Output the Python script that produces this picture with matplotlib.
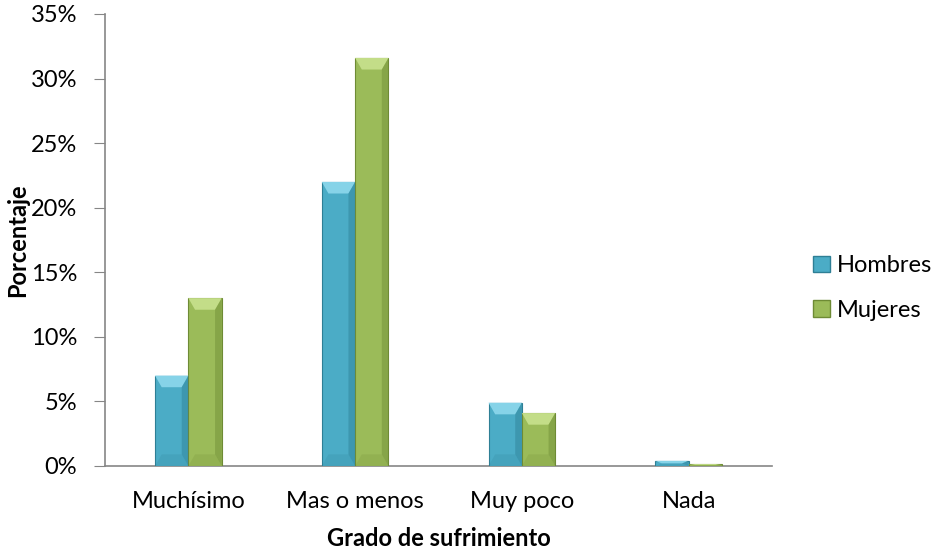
import numpy as np
import matplotlib.pyplot as plt
from matplotlib.patches import Polygon, Patch
from matplotlib.ticker import PercentFormatter

categories = ["Muchísimo", "Mas o menos", "Muy poco", "Nada"]
hombres = [7.0, 22.0, 4.9, 0.4]
mujeres = [13.0, 31.6, 4.1, 0.15]
series_names = ["Hombres", "Mujeres"]

plt.rcParams['font.family'] = ['Lato', 'DejaVu Sans']

fig = plt.figure(figsize=(9.31, 5.57), dpi=100)
ax = fig.add_axes([105 / 931, 1 - 466 / 557, 667 / 931, 452 / 557])

x = np.arange(len(categories))
w = 0.2
blue, green = "#4BACC6", "#9BBB59"
blue_hi, green_hi = "#86D3E8", "#C3DD88"
blue_dk, green_dk = "#2E7F95", "#6E8B35"

b1 = ax.bar(x - w / 2, hombres, w, color=blue, edgecolor=blue_dk, linewidth=0.8, zorder=3)
b2 = ax.bar(x + w / 2, mujeres, w, color=green, edgecolor=green_dk, linewidth=0.8, zorder=3)

# simple bevel look: light top face, darker sides and bottom
for bars, hi, dk in [(b1, blue_hi, blue_dk), (b2, green_hi, green_dk)]:
    for r in bars:
        x0, wd, h = r.get_x(), r.get_width(), r.get_height()
        by = min(0.9, h / 2)
        bx = 0.04
        top = Polygon([(x0, h), (x0 + wd, h), (x0 + wd - bx, h - by), (x0 + bx, h - by)],
                      closed=True, facecolor=hi, edgecolor='none', zorder=4)
        right = Polygon([(x0 + wd, h), (x0 + wd, 0), (x0 + wd - bx, by), (x0 + wd - bx, h - by)],
                        closed=True, facecolor=dk, edgecolor='none', alpha=0.45, zorder=4)
        bottom = Polygon([(x0, 0), (x0 + wd, 0), (x0 + wd - bx, by), (x0 + bx, by)],
                         closed=True, facecolor=dk, edgecolor='none', alpha=0.2, zorder=4)
        ax.add_patch(top)
        ax.add_patch(right)
        ax.add_patch(bottom)

ax.set_xlim(-0.5, len(categories) - 0.5)
ax.set_ylim(0, 35)
ax.set_yticks(np.arange(0, 36, 5))
ax.yaxis.set_major_formatter(PercentFormatter(decimals=0))
ax.set_xticks(x)
ax.set_xticklabels(categories, fontsize=17)
ax.tick_params(axis='y', labelsize=17, length=8, color='#868686', pad=12)
ax.tick_params(axis='x', length=0, pad=18)

for s in ['top', 'right']:
    ax.spines[s].set_visible(False)
ax.spines['left'].set_color('#868686')
ax.spines['bottom'].set_color('#868686')
ax.spines['left'].set_linewidth(1.2)
ax.spines['bottom'].set_linewidth(1.2)

ax.set_xlabel("Grado de sufrimiento", fontsize=17, fontweight='bold', labelpad=11)
ax.set_ylabel("Porcentaje", fontsize=17, fontweight='bold')
ax.yaxis.set_label_coords(-0.114, 0.5)

handles = [Patch(facecolor=blue, edgecolor=blue_dk), Patch(facecolor=green, edgecolor=green_dk)]
fig.legend(handles, series_names, loc='center left', bbox_to_anchor=(804 / 931, 1 - 288 / 557),
           frameon=False, fontsize=17, handlelength=0.68, handleheight=0.68,
           handletextpad=0.3, labelspacing=1.0, borderaxespad=0)

fig.savefig("out.png", dpi=100)
